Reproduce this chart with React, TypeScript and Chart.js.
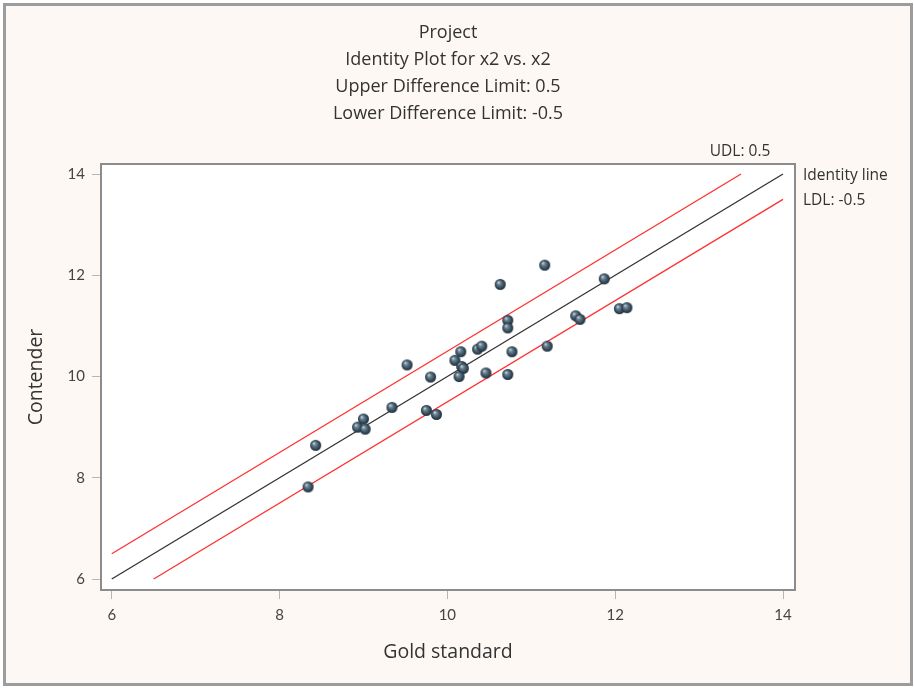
import React, { useEffect, useRef } from 'react';
import { Chart, registerables } from 'chart.js';

Chart.register(...registerables);

const titleLines = [
  'Project',
  'Identity Plot for x2 vs. x2',
  'Upper Difference Limit: 0.5',
  'Lower Difference Limit: -0.5',
];
const xAxisTitle = 'Gold standard';
const yAxisTitle = 'Contender';
const xTickValues = [6, 8, 10, 12, 14];
const yTickValues = [6, 8, 10, 12, 14];

const goldStandard = [
  11.16, 10.63, 11.87, 12.05, 12.14, 11.53, 11.58, 10.72, 10.72, 11.19,
  10.16, 10.36, 10.41, 10.77, 10.09, 9.52, 10.17, 10.19, 9.8, 10.14,
  10.46, 10.72, 9.34, 9.75, 9.87, 9.0, 8.93, 9.02, 8.43, 8.34,
];
const contender = [
  12.2, 11.82, 11.93, 11.34, 11.36, 11.2, 11.13, 11.11, 10.96, 10.6,
  10.49, 10.54, 10.6, 10.49, 10.32, 10.23, 10.2, 10.16, 9.99, 10.0,
  10.07, 10.04, 9.39, 9.33, 9.25, 9.16, 9.0, 8.96, 8.64, 7.82,
];

const identityX = [6, 14];
const identityY = [6, 14];
const udlX = [6, 13.5];
const udlY = [6.5, 14];
const ldlX = [6.5, 14];
const ldlY = [6, 13.5];
const lineLabels = ['UDL: 0.5', 'Identity line', 'LDL: -0.5'];

const FONT = '"Open Sans"';
const TICK_FONT = 'Lato';
const TEXT = '#333333';

function makeSphere(r: number): HTMLCanvasElement {
  const c = document.createElement('canvas');
  const s = Math.ceil(r * 2 + 2);
  c.width = s;
  c.height = s;
  const ctx = c.getContext('2d')!;
  const cx = s / 2;
  const cy = s / 2;
  const g = ctx.createRadialGradient(cx - r * 0.35, cy - r * 0.4, 0.3, cx, cy, r);
  g.addColorStop(0, '#c9d6de');
  g.addColorStop(0.3, '#6a8291');
  g.addColorStop(0.75, '#33495a');
  g.addColorStop(1, '#1d2b35');
  ctx.beginPath();
  ctx.arc(cx, cy, r, 0, Math.PI * 2);
  ctx.fillStyle = g;
  ctx.fill();
  return c;
}

function pairs(xs: number[], ys: number[]) {
  return xs.map((x, i) => ({ x, y: ys[i] }));
}

export default function App() {
  const ref = useRef<HTMLCanvasElement | null>(null);

  useEffect(() => {
    if (!ref.current) return;
    const sphere = makeSphere(5.5);

    const areaPlugin = {
      id: 'areaPlugin',
      beforeDatasetsDraw(chart: any) {
        const { ctx, chartArea: a } = chart;
        ctx.save();
        ctx.fillStyle = '#ffffff';
        ctx.fillRect(a.left, a.top, a.right - a.left, a.bottom - a.top);
        ctx.restore();
      },
      afterDraw(chart: any) {
        const { ctx, chartArea: a, scales } = chart;
        ctx.save();
        ctx.strokeStyle = '#8c8c8c';
        ctx.lineWidth = 2;
        ctx.strokeRect(a.left, a.top, a.right - a.left, a.bottom - a.top);
        ctx.fillStyle = TEXT;
        ctx.font = `15.5px ${FONT}`;
        ctx.textBaseline = 'middle';
        const xs = scales.x;
        const ys = scales.y;
        ctx.textAlign = 'center';
        ctx.fillText(lineLabels[0], xs.getPixelForValue(udlX[1]) - 1, ys.getPixelForValue(udlY[1]) - 22);
        ctx.textAlign = 'left';
        ctx.fillText(lineLabels[1], a.right + 8, ys.getPixelForValue(identityY[1]) + 2);
        ctx.fillText(lineLabels[2], a.right + 8, ys.getPixelForValue(ldlY[1]) + 1);
        ctx.restore();
      },
    };

    const lineDs = (label: string, data: any[], color: string) => ({
      type: 'scatter' as const,
      label,
      data,
      showLine: true,
      borderColor: color,
      borderWidth: 1.3,
      pointRadius: 0,
      order: 2,
    });

    const chart = new Chart(ref.current, {
      type: 'scatter',
      data: {
        datasets: [
          {
            label: 'Points',
            data: pairs(goldStandard, contender),
            pointStyle: sphere as any,
            pointRadius: 5.5,
            order: 0,
          },
          lineDs('Identity line', pairs(identityX, identityY), '#333333'),
          lineDs('UDL', pairs(udlX, udlY), '#ff3030'),
          lineDs('LDL', pairs(ldlX, ldlY), '#ff3030'),
        ],
      },
      options: {
        animation: false,
        responsive: false,
        maintainAspectRatio: false,
        layout: { padding: { left: 0, right: 119, top: 0, bottom: 0 } },
        plugins: {
          legend: { display: false },
          tooltip: { enabled: false },
          title: {
            display: true,
            fullSize: false,
            text: titleLines,
            color: TEXT,
            font: { family: FONT, size: 18, weight: 'normal', lineHeight: 1.5 },
            padding: { top: 19, bottom: 37 },
          },
        },
        scales: {
          x: {
            type: 'linear',
            min: 5.872,
            max: 14.143,
            afterBuildTicks: (s: any) => {
              s.ticks = xTickValues.map((v) => ({ value: v }));
            },
            afterFit: (s: any) => {
              s.height = 98;
            },
            grid: { display: true, drawOnChartArea: false, drawTicks: true, tickLength: 9, color: '#b5b5b5', tickColor: '#b5b5b5' },
            border: { display: false },
            ticks: { color: '#444', font: { family: TICK_FONT, size: 15 }, padding: 7, autoSkip: false, maxRotation: 0 },
            title: { display: true, text: xAxisTitle, color: TEXT, font: { family: FONT, size: 19.5 }, padding: { top: 0, bottom: 24 } },
          },
          y: {
            type: 'linear',
            min: 5.783,
            max: 14.198,
            afterBuildTicks: (s: any) => {
              s.ticks = yTickValues.map((v) => ({ value: v }));
            },
            afterFit: (s: any) => {
              s.width = 101;
            },
            grid: { display: true, drawOnChartArea: false, drawTicks: true, tickLength: 9, color: '#b5b5b5', tickColor: '#b5b5b5' },
            border: { display: false },
            ticks: { color: '#444', font: { family: TICK_FONT, size: 15 }, padding: 7, autoSkip: false },
            title: { display: true, text: yAxisTitle, color: TEXT, font: { family: FONT, size: 19.5 }, padding: { top: 25, bottom: 0 } },
          },
        },
      },
      plugins: [areaPlugin],
    });
    return () => chart.destroy();
  }, []);

  return (
    <div style={{ position: 'absolute', left: 0, top: 0, width: 914, height: 688, background: '#ffffff' }}>
      <div
        style={{
          position: 'absolute',
          left: 3,
          top: 3,
          width: 910,
          height: 683,
          boxSizing: 'border-box',
          border: '3px solid #9c9c9c',
          background: '#fdf8f3',
        }}
      />
      <canvas ref={ref} width={914} height={688} style={{ position: 'absolute', left: 0, top: 0, width: 914, height: 688 }} />
    </div>
  );
}
